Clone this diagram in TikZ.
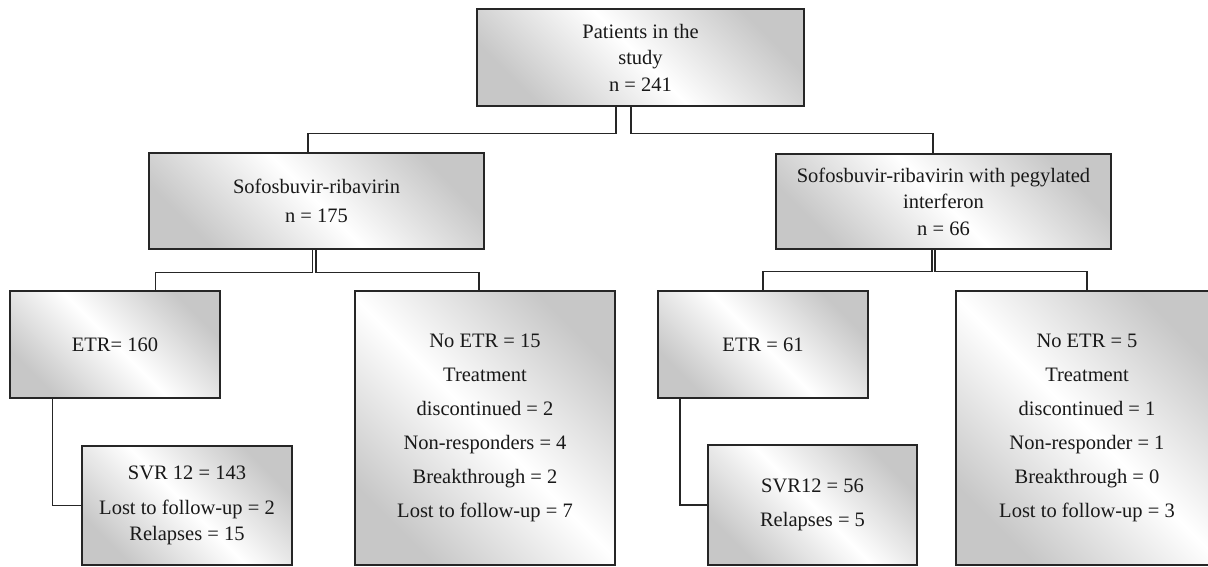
\documentclass[tikz,border=0pt]{standalone}
\usepackage{fontspec}
\setmainfont{Liberation Serif}
\begin{document}
\begin{tikzpicture}[x=1pt,y=-1pt,
  box/.style={draw=black!85, line width=1.2pt, left color=black!22, right color=black!22,
    middle color=white, shading angle=-45, inner sep=0pt, align=center,
    font=\fontsize{20.5}{26.5}\selectfont, text=black!90},
  wide/.style={font=\fontsize{20.5}{34}\selectfont},
  conn/.style={draw=black!85, line width=1.1pt}]
\useasboundingbox (0,0) rectangle (1208,566);
\clip (0,0) rectangle (1208,566);
% boxes
\node[box, minimum width=327pt, minimum height=97pt] (top) at (640.5,57.5) {Patients in the\\study\\n = 241};
\node[box, minimum width=335pt, minimum height=96pt] (L2) at (316.5,201) {Sofosbuvir-ribavirin\\[2pt]n = 175};
\node[box, minimum width=335pt, minimum height=95pt] (R2) at (943.5,201.5) {Sofosbuvir-ribavirin with pegylated\\interferon\\n = 66};
\node[box, minimum width=210pt, minimum height=107pt] (ETRa) at (115,344.5) {ETR= 160};
\node[box, minimum width=210pt, minimum height=119pt] (SVRa) at (187,505.5) {SVR 12 = 143\\[8pt]Lost to follow-up = 2\\Relapses = 15};
\node[box, wide, minimum width=260pt, minimum height=274pt] (NoA) at (485,428) {No ETR = 15\\Treatment\\discontinued = 2\\Non-responders = 4\\Breakthrough = 2\\Lost to follow-up = 7};
\node[box, minimum width=210pt, minimum height=107pt] (ETRb) at (763,344.5) {ETR = 61};
\node[box, font=\fontsize{20.5}{33.5}\selectfont, minimum width=209pt, minimum height=120pt] (SVRb) at (812.5,505) {SVR12 = 56\\Relapses = 5};
\node[box, wide, minimum width=262pt, minimum height=274pt] (NoB) at (1087,428) {No ETR = 5\\Treatment\\discontinued = 1\\Non-responder = 1\\Breakthrough = 0\\Lost to follow-up = 3};
% connectors from top
\draw[conn] ([xshift=-24.5pt]top.south) -- ++(0,27) -| ([xshift=-8.5pt]L2.north);
\draw[conn] ([xshift=-9.5pt]top.south) -- ++(0,27) -| ([xshift=-10.5pt]R2.north);
% connectors from L2
\draw[conn] ([xshift=-4pt]L2.south) -- ++(0,22.5) -| ([xshift=40.7pt]ETRa.north);
\draw[conn] ([xshift=-0.5pt]L2.south) -- ++(0,22.5) -| ([xshift=-6pt]NoA.north);
% connectors from R2
\draw[conn] ([xshift=-11.5pt]R2.south) -- ++(0,22) -| (ETRb.north);
\draw[conn] ([xshift=-8.5pt]R2.south) -- ++(0,22) -| (NoB.north);
% ETR to SVR
\draw[conn] ([xshift=-62.7pt]ETRa.south) |- (SVRa.west);
\draw[conn] ([xshift=-83pt]ETRb.south) |- (SVRb.west);
\end{tikzpicture}
\end{document}
